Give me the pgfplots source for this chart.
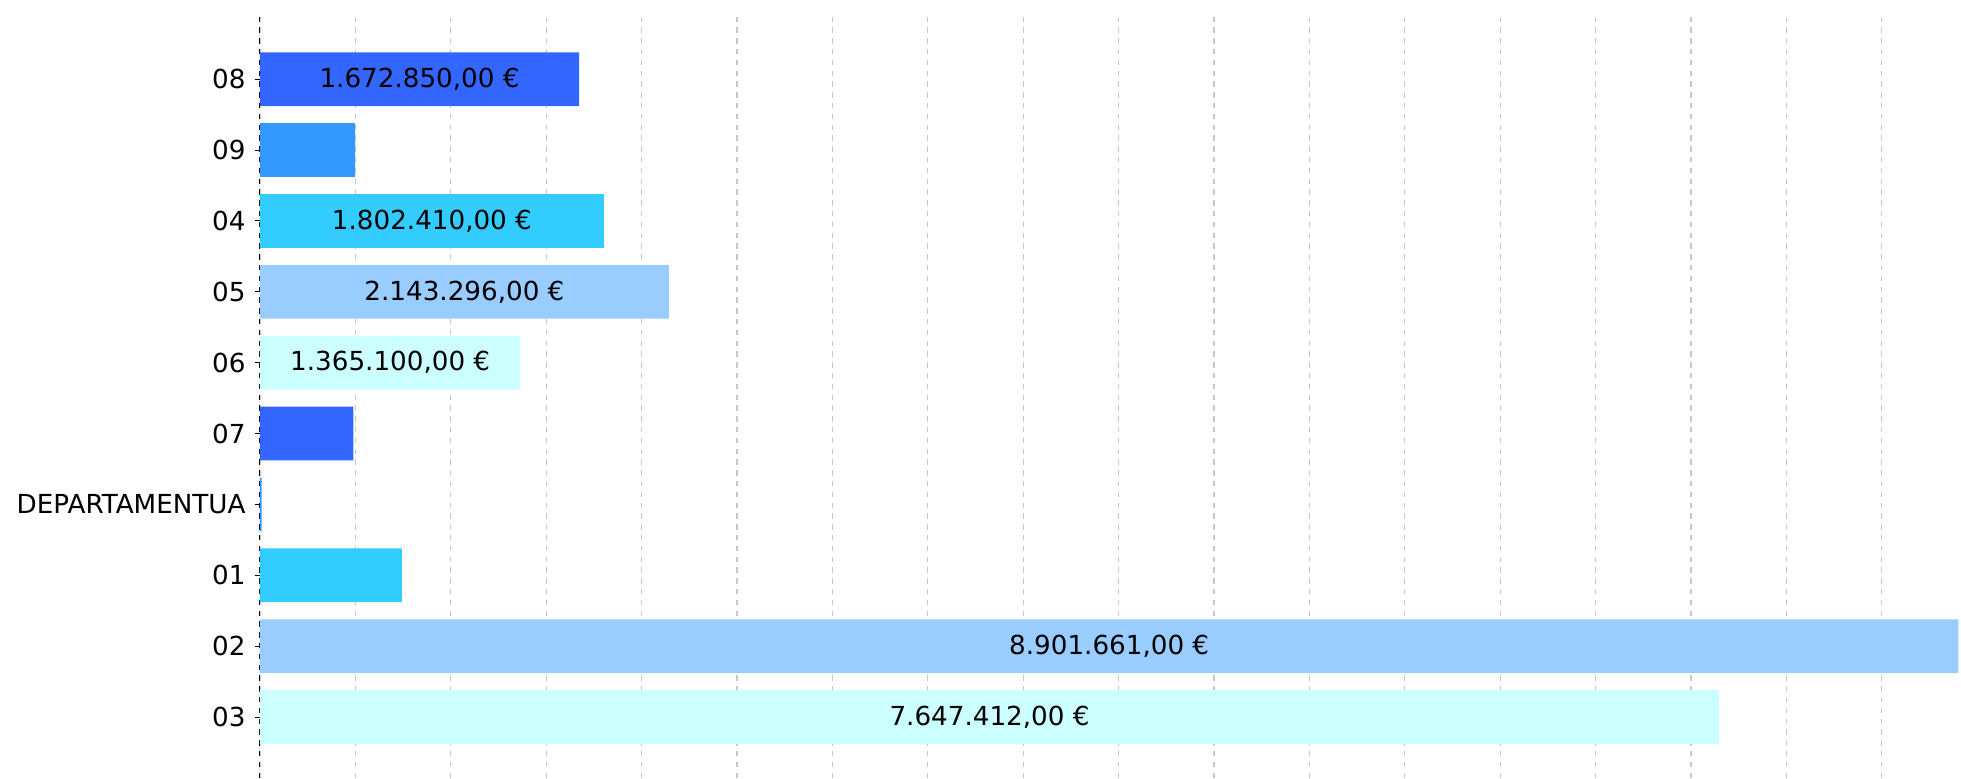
\documentclass[border=0pt]{standalone}
\usepackage{fontspec}
\setmainfont{DejaVu Sans}
\usepackage{pgfplots}
\pgfplotsset{compat=1.18}
\definecolor{cA}{HTML}{3366FF}
\definecolor{cB}{HTML}{3399FF}
\definecolor{cC}{HTML}{33CCFF}
\definecolor{cD}{HTML}{99CCFF}
\definecolor{cE}{HTML}{CCFFFF}
\definecolor{gridc}{HTML}{C8C8C8}
\begin{document}
\begin{tikzpicture}
\path[use as bounding box] (0,0) rectangle (980.5pt,389pt);
\begin{axis}[
  at={(130pt,0pt)}, anchor=south west,
  scale only axis, width=850.5pt, height=382pt,
  xmin=0, xmax=8915000, ymin=-0.86, ymax=9.92,
  axis lines*=left,
  x axis line style={draw=none},
  y axis line style={black, line width=0.5pt, dash pattern=on 2.7pt off 2.7pt},
  xtick={0,500000,...,8500000}, xticklabels={}, scaled x ticks=false,
  major x tick style={draw=none},
  xmajorgrids,
  grid style={gridc, line width=0.6pt, dash pattern=on 2.7pt off 2.7pt},
  ytick={0,...,9},
  yticklabels={03,02,01,DEPARTAMENTUA,07,06,05,04,09,08},
  tick align=outside, major tick length=2.5pt,
  major y tick style={black, line width=0.5pt},
  yticklabel style={font=\fontsize{13.1}{15}\selectfont, text=black, xshift=-1.2pt},
  bar width=26.85pt,
  clip=false,
]
\addplot[xbar, bar shift=0pt, draw=none, fill=cA] coordinates {(1672850,9) (489000,4)};
\addplot[xbar, bar shift=0pt, draw=none, fill=cB] coordinates {(499000,8) (9000,3)};
\addplot[xbar, bar shift=0pt, draw=none, fill=cC] coordinates {(1802410,7) (744000,2)};
\addplot[xbar, bar shift=0pt, draw=none, fill=cD] coordinates {(2143296,6) (8901661,1)};
\addplot[xbar, bar shift=0pt, draw=none, fill=cE] coordinates {(1365100,5) (7647412,0)};
\addplot[draw=none, mark=none, nodes near coords={\pgfplotspointmeta},
  point meta=explicit symbolic,
  every node near coord/.style={anchor=center, text=black, font=\fontsize{13.1}{15}\selectfont}]
  table[x expr=\thisrow{v}/2, y=p, meta=lab, col sep=semicolon] {
p;v;lab
9;1672850;1.672.850,00 €
7;1802410;1.802.410,00 €
6;2143296;2.143.296,00 €
5;1365100;1.365.100,00 €
1;8901661;8.901.661,00 €
0;7647412;7.647.412,00 €
};
\end{axis}
\end{tikzpicture}
\end{document}
